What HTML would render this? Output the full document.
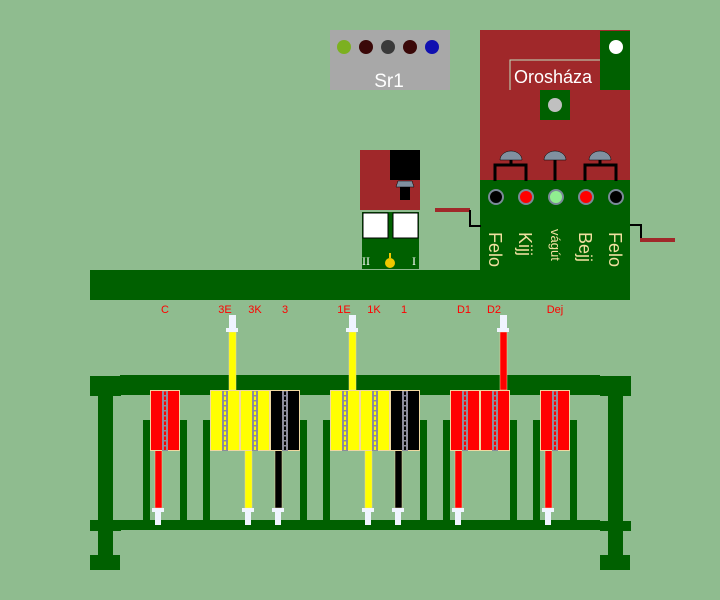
<!DOCTYPE html>
<html><head><meta charset="utf-8"><style>
html,body{margin:0;padding:0;background:#8fbc8f;}
svg{display:block;font-family:"Liberation Sans",sans-serif;}
</style></head><body>
<svg width="720" height="600" viewBox="0 0 720 600" xmlns="http://www.w3.org/2000/svg">
<defs>
<pattern id="rung" x="0" y="0" width="6" height="5" patternUnits="userSpaceOnUse">
<rect x="0" y="0" width="6" height="1.5" fill="#8c8c9c"/>
</pattern>
</defs>
<rect width="720" height="600" fill="#8fbc8f"/>

<!-- Sr1 -->
<rect x="330" y="30" width="120" height="60" fill="#a8a8a8"/>
<circle cx="344" cy="47" r="7" fill="#7cb020"/>
<circle cx="366" cy="47" r="7" fill="#3a0808"/>
<circle cx="388" cy="47" r="7" fill="#3a3a3a"/>
<circle cx="410" cy="47" r="7" fill="#3a0808"/>
<circle cx="432" cy="47" r="7" fill="#1010b0"/>
<text x="389" y="87" font-size="19" fill="#fff" text-anchor="middle">Sr1</text>

<!-- station -->
<rect x="480" y="30" width="150" height="150" fill="#a0282a"/>
<rect x="600" y="31" width="30" height="59" fill="#006000"/>
<circle cx="616" cy="47" r="7" fill="#fff"/>
<polyline points="510,90 510,60 600,60" fill="none" stroke="#c0e0c0" stroke-width="1"/>
<text x="514" y="83" font-size="18" fill="#fff">Orosháza</text>
<rect x="540" y="90" width="30" height="30" fill="#006000"/>
<circle cx="555" cy="105" r="7" fill="#c0c0c0"/>
<rect x="480" y="180" width="150" height="90" fill="#006000"/>
<g fill="#8090a0" stroke="#000" stroke-width="0.5">
<path d="M500,160 A11,9 0 0 1 522,160 Z"/>
<path d="M544,160 A11,9 0 0 1 566,160 Z"/>
<path d="M589,160 A11,9 0 0 1 611,160 Z"/>
</g>
<g fill="none" stroke="#000" stroke-width="3">
<polyline points="495,181 495,165 526,165 526,181"/>
<line x1="511" y1="160" x2="511" y2="165"/>
<line x1="555" y1="160" x2="555" y2="181"/>
<polyline points="585,181 585,165 616,165 616,181"/>
<line x1="600" y1="160" x2="600" y2="165"/>
</g>
<g stroke="#7a8a98" stroke-width="2">
<circle cx="496" cy="197" r="7" fill="#000"/>
<circle cx="526" cy="197" r="7" fill="#ff0000"/>
<circle cx="556" cy="197" r="7" fill="#90ee90"/>
<circle cx="586" cy="197" r="7" fill="#ff0000"/>
<circle cx="616" cy="197" r="7" fill="#000"/>
</g>
<g fill="#f0e0a0" font-size="18">
<text transform="translate(489,232) rotate(90)">Felo</text>
<text transform="translate(519,232) rotate(90)">Kijj</text>
<text transform="translate(551,229) rotate(90)" font-size="13">vágút</text>
<text transform="translate(579,232) rotate(90)">Bejj</text>
<text transform="translate(609,232) rotate(90)">Felo</text>
</g>

<!-- small box -->
<rect x="360" y="150" width="60" height="60" fill="#a0282a"/>
<rect x="390" y="150" width="30" height="30" fill="#000"/>
<path d="M396,187 L398,181 L412,181 L414,187 Z" fill="#8090a0" stroke="#000" stroke-width="0.5"/>
<rect x="400" y="187" width="10" height="13" fill="#000"/>
<rect x="362" y="212" width="57" height="57" fill="#006000"/>
<rect x="363" y="213" width="25" height="25" fill="#fff" stroke="#000" stroke-width="1"/>
<rect x="393" y="213" width="25" height="25" fill="#fff" stroke="#000" stroke-width="1"/>
<text x="362" y="265" font-size="12" fill="#fff" font-family="Liberation Serif,serif">II</text>
<text x="412" y="265" font-size="12" fill="#fff" font-family="Liberation Serif,serif">I</text>
<circle cx="390" cy="263" r="5" fill="#f0c800"/>
<rect x="389" y="253" width="2" height="5" fill="#f0c800"/>

<!-- connectors -->
<rect x="435" y="208" width="35" height="4" fill="#a0282a"/>
<polyline points="470,210 470,226 481,226" fill="none" stroke="#000" stroke-width="2"/>
<polyline points="630,225 641,225 641,240" fill="none" stroke="#000" stroke-width="2"/>
<rect x="640" y="238" width="35" height="4" fill="#a0282a"/>

<!-- main bar -->
<rect x="90" y="270" width="540" height="30" fill="#006000"/>

<!-- labels -->
<g fill="#ff0000" font-size="11" text-anchor="middle">
<text x="165" y="313">C</text>
<text x="225" y="313">3E</text>
<text x="255" y="313">3K</text>
<text x="285" y="313">3</text>
<text x="344" y="313">1E</text>
<text x="374" y="313">1K</text>
<text x="404" y="313">1</text>
<text x="464" y="313">D1</text>
<text x="494" y="313">D2</text>
<text x="555" y="313">Dej</text>
</g>

<!-- frame -->
<g fill="#006000">
<rect x="120" y="375" width="480" height="20"/>
<rect x="120" y="520" width="480" height="10"/>
<rect x="90" y="376" width="31" height="20"/>
<rect x="98" y="376" width="15" height="184"/>
<rect x="90" y="520" width="31" height="11"/>
<rect x="90" y="555" width="30" height="15"/>
<rect x="600" y="376" width="31" height="20"/>
<rect x="608" y="376" width="15" height="184"/>
<rect x="600" y="521" width="31" height="10"/>
<rect x="600" y="555" width="30" height="15"/>
<rect x="143" y="420" width="7" height="100"/>
<rect x="180" y="420" width="7" height="100"/>
<rect x="203" y="420" width="7" height="100"/>
<rect x="300" y="420" width="7" height="100"/>
<rect x="323" y="420" width="7" height="100"/>
<rect x="420" y="420" width="7" height="100"/>
<rect x="443" y="420" width="7" height="100"/>
<rect x="510" y="420" width="7" height="100"/>
<rect x="533" y="420" width="7" height="100"/>
<rect x="570" y="420" width="7" height="100"/>
</g>

<!-- top stems -->
<g>
<rect x="229" y="332" width="7" height="58" fill="#ffff00" stroke="#f0d8a0" stroke-width="0.5"/>
<rect x="229" y="315" width="7" height="14" fill="#f0f4ff"/>
<rect x="226" y="328" width="12" height="4" fill="#f0f4ff"/>
<rect x="349" y="332" width="7" height="58" fill="#ffff00" stroke="#f0d8a0" stroke-width="0.5"/>
<rect x="349" y="315" width="7" height="14" fill="#f0f4ff"/>
<rect x="346" y="328" width="12" height="4" fill="#f0f4ff"/>
<rect x="500" y="332" width="7" height="58" fill="#ff0000" stroke="#f0d8a0" stroke-width="0.5"/>
<rect x="500" y="315" width="7" height="14" fill="#f0f4ff"/>
<rect x="497" y="328" width="12" height="4" fill="#f0f4ff"/>
</g>

<!-- bottom stems -->
<g>
<rect x="155" y="450" width="7" height="58" fill="#ff0000" stroke="#f0d8a0" stroke-width="0.5"/>
<rect x="245" y="450" width="7" height="58" fill="#ffff00" stroke="#f0d8a0" stroke-width="0.5"/>
<rect x="275" y="450" width="7" height="58" fill="#000" stroke="#f0d8a0" stroke-width="0.5"/>
<rect x="365" y="450" width="7" height="58" fill="#ffff00" stroke="#f0d8a0" stroke-width="0.5"/>
<rect x="395" y="450" width="7" height="58" fill="#000" stroke="#f0d8a0" stroke-width="0.5"/>
<rect x="455" y="450" width="7" height="58" fill="#ff0000" stroke="#f0d8a0" stroke-width="0.5"/>
<rect x="545" y="450" width="7" height="58" fill="#ff0000" stroke="#f0d8a0" stroke-width="0.5"/>
</g>
<g fill="#f0f4ff">
<rect x="152" y="508" width="12" height="4"/><rect x="155" y="512" width="6" height="13"/>
<rect x="242" y="508" width="12" height="4"/><rect x="245" y="512" width="6" height="13"/>
<rect x="272" y="508" width="12" height="4"/><rect x="275" y="512" width="6" height="13"/>
<rect x="362" y="508" width="12" height="4"/><rect x="365" y="512" width="6" height="13"/>
<rect x="392" y="508" width="12" height="4"/><rect x="395" y="512" width="6" height="13"/>
<rect x="452" y="508" width="12" height="4"/><rect x="455" y="512" width="6" height="13"/>
<rect x="542" y="508" width="12" height="4"/><rect x="545" y="512" width="6" height="13"/>
</g>

<!-- blocks -->
<g stroke="#f0d8a0" stroke-width="1">
<rect x="150.5" y="390.5" width="29" height="60" fill="#ff0000"/>
<rect x="210.5" y="390.5" width="29" height="60" fill="#ffff00"/>
<rect x="240.5" y="390.5" width="29" height="60" fill="#ffff00"/>
<rect x="270.5" y="390.5" width="29" height="60" fill="#000"/>
<rect x="330.5" y="390.5" width="29" height="60" fill="#ffff00"/>
<rect x="360.5" y="390.5" width="29" height="60" fill="#ffff00"/>
<rect x="390.5" y="390.5" width="29" height="60" fill="#000"/>
<rect x="450.5" y="390.5" width="29" height="60" fill="#ff0000"/>
<rect x="480.5" y="390.5" width="29" height="60" fill="#ff0000"/>
<rect x="540.5" y="390.5" width="29" height="60" fill="#ff0000"/>
</g>
<!-- chains -->
<g>
<g fill="#8c8c9c">
<rect x="162" y="391" width="6" height="60"/>
<rect x="222" y="391" width="6" height="60"/>
<rect x="252" y="391" width="6" height="60"/>
<rect x="282" y="391" width="6" height="60"/>
<rect x="342" y="391" width="6" height="60"/>
<rect x="372" y="391" width="6" height="60"/>
<rect x="402" y="391" width="6" height="60"/>
<rect x="462" y="391" width="6" height="60"/>
<rect x="492" y="391" width="6" height="60"/>
<rect x="552" y="391" width="6" height="60"/>
</g>
<rect x="164" y="391" width="2" height="60" fill="#ff0000"/>
<rect x="224" y="391" width="2" height="60" fill="#ffff00"/>
<rect x="254" y="391" width="2" height="60" fill="#ffff00"/>
<rect x="284" y="391" width="2" height="60" fill="#000"/>
<rect x="344" y="391" width="2" height="60" fill="#ffff00"/>
<rect x="374" y="391" width="2" height="60" fill="#ffff00"/>
<rect x="404" y="391" width="2" height="60" fill="#000"/>
<rect x="464" y="391" width="2" height="60" fill="#ff0000"/>
<rect x="494" y="391" width="2" height="60" fill="#ff0000"/>
<rect x="554" y="391" width="2" height="60" fill="#ff0000"/>
<g fill="url(#rung)">
<rect x="162" y="391" width="6" height="60"/>
<rect x="222" y="391" width="6" height="60"/>
<rect x="252" y="391" width="6" height="60"/>
<rect x="282" y="391" width="6" height="60"/>
<rect x="342" y="391" width="6" height="60"/>
<rect x="372" y="391" width="6" height="60"/>
<rect x="402" y="391" width="6" height="60"/>
<rect x="462" y="391" width="6" height="60"/>
<rect x="492" y="391" width="6" height="60"/>
<rect x="552" y="391" width="6" height="60"/>
</g>
</g>
</svg>
</body></html>
